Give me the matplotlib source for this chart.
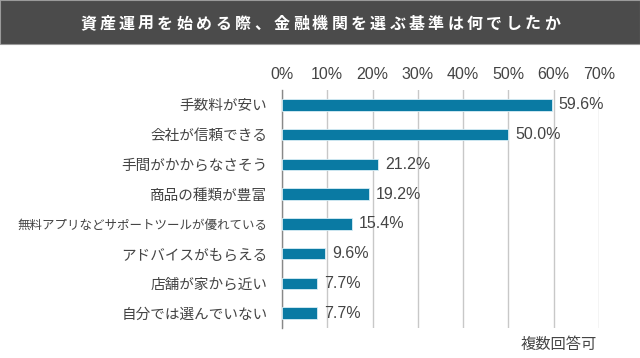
import matplotlib.pyplot as plt
from matplotlib.patches import Rectangle

plt.rcParams['font.family'] = ['Noto Sans CJK JP', 'DejaVu Sans']

title = "資産運用を始める際、金融機関を選ぶ基準は何でしたか"
categories = ["手数料が安い", "会社が信頼できる", "手間がかからなさそう", "商品の種類が豊富",
              "無料アプリなどサポートツールが優れている", "アドバイスがもらえる",
              "店舗が家から近い", "自分では選んでいない"]
values = [59.6, 50.0, 21.2, 19.2, 15.4, 9.6, 7.7, 7.7]
ticks = [0, 10, 20, 30, 40, 50, 60, 70]
note = "複数回答可"

W, H = 640, 358
fig = plt.figure(figsize=(W / 100, H / 100), dpi=100)

# title bar
fig.patches.append(Rectangle((0, 1 - 44 / H), 1, 44 / H, transform=fig.transFigure,
                             facecolor='#4b4b4b', edgecolor='#9a9a9a', linewidth=0.8))
# spaced-out title, one character at a time
x0, x1 = 88, 552
step = (x1 - x0) / (len(title) - 1)
for i, ch in enumerate(title):
    fig.text((x0 + i * step) / W, 1 - 24 / H, ch, color='white', fontsize=11.5,
             fontweight='bold', ha='center', va='center')

left, right, top, bottom = 282, 599, 90, 328
ax = fig.add_axes([left / W, 1 - bottom / H, (right - left) / W, (bottom - top) / H])

num_font = ['Liberation Sans', 'DejaVu Sans']
y = list(range(len(categories)))
ax.barh(y, values, height=0.38, color='#0a7aa3', edgecolor='#d8eef6', linewidth=0.6, zorder=3)
for yi, v in zip(y, values):
    ax.text(v + 1.5, yi, f"{v:.1f}%", va='center', ha='left', fontsize=11.5,
            color='#444444', family=num_font, zorder=4)

ax.set_xlim(0, 70)
ax.set_ylim(len(categories) - 0.5, -0.5)
ax.set_xticks(ticks)
ax.set_xticklabels([f"{t}%" for t in ticks], family=num_font)
ax.xaxis.tick_top()
ax.tick_params(axis='x', length=0, pad=6, labelsize=11.5, labelcolor='#444444')
ax.set_yticks(y)
ax.set_yticklabels(categories)
ax.tick_params(axis='y', length=0, pad=10.5, labelcolor='#444444')
for lab in ax.get_yticklabels():
    lab.set_fontsize(9.0 if len(lab.get_text()) > 15 else 10.5)
ax.grid(axis='x', color='#c8c8c8', linewidth=1, zorder=0)
for s in ['top', 'right', 'bottom']:
    ax.spines[s].set_visible(False)
ax.spines['left'].set_color('#888888')
ax.spines['left'].set_linewidth(1)
ax.set_facecolor('none')

fig.text(559 / W, 1 - 344 / H, note, fontsize=11, color='#444444', ha='center', va='center')

fig.savefig('out.png', dpi=100)
